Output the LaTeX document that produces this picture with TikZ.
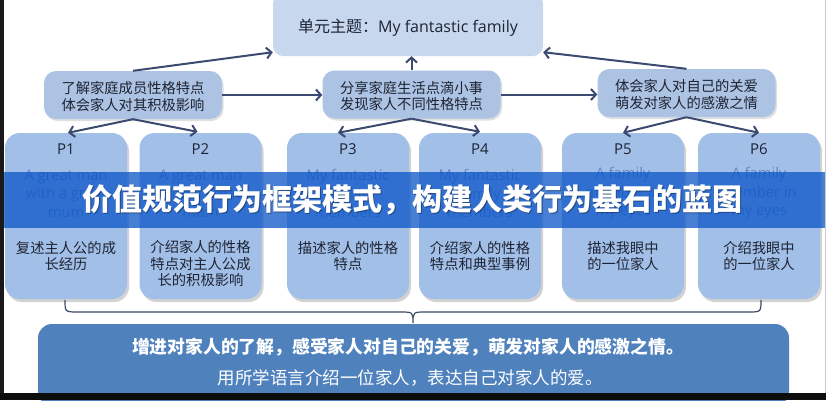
\documentclass[tikz,border=0pt]{standalone}
\usepackage{fontspec}
\setmainfont{Open Sans}
\newfontfamily\cjk{Noto Sans CJK SC}
\usetikzlibrary{arrows.meta,shadows,calc}
\definecolor{topc}{HTML}{C6D7EE}
\definecolor{midc}{HTML}{ADC3E3}
\definecolor{pc}{HTML}{A2BFE8}
\definecolor{arr}{HTML}{3B4A6E}
\definecolor{entext}{HTML}{5F88C6}
\definecolor{dark}{HTML}{1E2433}
\definecolor{bigc}{HTML}{4F81BD}
\definecolor{bann}{HTML}{0A55C8}
\definecolor{bracec}{HTML}{3A4866}
\tikzset{
  topbox/.style={fill=topc, rounded corners=10pt, minimum width=270pt, minimum height=62pt, inner sep=0pt},
  midbox/.style={fill=midc, rounded corners=12pt, minimum width=178pt, minimum height=48pt, inner sep=0pt,
    drop shadow={shadow xshift=1.5pt, shadow yshift=-2pt, opacity=0.25}},
  pbox/.style={fill=pc, rounded corners=15pt, minimum width=122pt, minimum height=166pt, inner sep=0pt,
    drop shadow={shadow xshift=2pt, shadow yshift=-3pt, opacity=0.35}},
  bigbox/.style={fill=bigc, rounded corners=14pt, minimum width=751pt, minimum height=82pt, inner sep=0pt},
  conn/.style={draw=arr, line width=2pt, -{Straight Barb[length=5pt,width=11pt]}},
  bracepath/.style={draw=bracec, line width=1.2pt},
  toptext/.style={font=\fontsize{16}{19}\selectfont, text=dark},
  midtext/.style={font=\cjk\fontsize{14.3}{16.5}\selectfont, text=dark, align=center},
  plabel/.style={font=\fontsize{15}{18}\selectfont, text=dark},
  entxt/.style={font=\fontsize{14.7}{18.5}\selectfont, text=entext, align=center},
  cntxt/.style={font=\cjk\fontsize{14.3}{16.5}\selectfont, text=dark, align=center},
  bigtextA/.style={font=\cjk\bfseries\fontsize{17.8}{20}\selectfont, text=white},
  bigtextB/.style={font=\cjk\fontsize{17.5}{20}\selectfont, text=white},
  banntext/.style={font=\cjk\bfseries\fontsize{30}{34}\selectfont, text=white},
}
\begin{document}
\begin{tikzpicture}[x=1pt,y=-1pt]
\useasboundingbox (0,0) rectangle (826,400);
\fill[white] (0,0) rectangle (826,400);

% top box
\node[topbox] (T) at (408,25) {};
\node[toptext] (Tt) at (408,28) {{\cjk 单元主题：}My fantastic family};

% middle boxes
\node[midbox] (M1) at (133,95) {};
\node[midbox] (M2) at (411.5,94.5) {};
\node[midbox] (M3) at (686.5,93) {};
\node[midtext] (M1t) at (133,96.5) {了解家庭成员性格特点\\体会家人对其积极影响};
\node[midtext] (M2t) at (411.5,96) {分享家庭生活点滴小事\\发现家人不同性格特点};
\node[midtext] (M3t) at (686.5,94.5) {体会家人对自己的关爱\\萌发对家人的感激之情};

% P boxes
\node[pbox] (P1) at (66,216) {};
\node[pbox] (P2) at (200.5,216) {};
\node[pbox] (P3) at (348,216) {};
\node[pbox] (P4) at (480,216) {};
\node[pbox] (P5) at (623,216) {};
\node[pbox] (P6) at (759,216) {};

\node[plabel] (P1l) at (66,149) {P1};
\node[plabel] (P2l) at (200.5,149) {P2};
\node[plabel] (P3l) at (348,149) {P3};
\node[plabel] (P4l) at (480,149) {P4};
\node[plabel] (P5l) at (623,149) {P5};
\node[plabel] (P6l) at (759,149) {P6};

\node[entxt] (P1e) at (66,193.5) {A great man\\with a great\\mum};
\node[entxt] (P2e) at (200.5,193.5) {A great man\\with a great\\mum};
\node[entxt] (P3e) at (348,193.5) {My fantastic\\family\\members};
\node[entxt] (P4e) at (480,193.5) {My fantastic\\family\\members};
\node[entxt] (P5e) at (623,193.5) {A family\\member in\\my eyes};
\node[entxt] (P6e) at (759,193.5) {A family\\member in\\my eyes};

\node[cntxt] (P1c) at (66,256) {复述主人公的成\\长经历};
\node[cntxt] (P2c) at (200.5,264) {介绍家人的性格\\特点对主人公成\\长的积极影响};
\node[cntxt] (P3c) at (348,256) {描述家人的性格\\特点};
\node[cntxt] (P4c) at (480,256) {介绍家人的性格\\特点和典型事例};
\node[cntxt] (P5c) at (623,256) {描述我眼中\\的一位家人};
\node[cntxt] (P6c) at (759,256) {介绍我眼中\\的一位家人};

% connectors
\draw[conn] (M1.north) -- ($(T.south west)+(0,-4)$);
\draw[conn] (M1.east) -- (M1.east -| M2.west);
\draw[conn] (M2.north) -- (M2.north |- T.south);
\draw[conn] (M2.east) -- (M2.east -| M3.west);
\draw[conn] (M3.north) -- ($(T.south east)+(0,-4)$);
\draw[conn] (M1.south) -- ($(P1.north)+(2,0)$);
\draw[conn] (M1.south) -- ($(P2.north)+(-3,-1)$);
\draw[conn] (M2.south) -- ($(P3.north)+(-10,0)$);
\draw[conn] (M2.south) -- ($(P4.north)+(0,-1)$);
\draw[conn] (M3.south) -- (P5.north);
\draw[conn] (M3.south) -- (P6.north);

% brace
\coordinate (bL) at (65,300);
\coordinate (bR) at (761,300);
\coordinate (bM) at (413,323);
\draw[bracepath] (bL) .. controls (65,312) .. (78,312) -- (400,312)
  .. controls (413,312) .. (bM) .. controls (413,312) .. (426,312)
  -- (748,312) .. controls (761,312) .. (bR);

% bottom box
\node[bigbox] (B) at (413.5,365) {};
\node[bigtextA] (Bt1) at (408,347) {增进对家人的了解，感受家人对自己的关爱，萌发对家人的感激之情。};
\node[bigtextB] (Bt2) at (410,378) {用所学语言介绍一位家人，表达自己对家人的爱。};

% banner overlay
\fill[bann, fill opacity=0.75] (0,172) rectangle (826,228);
\node[banntext, text=black, opacity=0.35] (Ws) at (413.2,201.2) {价值规范行为框架模式，构建人类行为基石的蓝图};
\node[banntext] (W) at (412,200) {价值规范行为框架模式，构建人类行为基石的蓝图};

% frame edges
\fill[black!90] (0,0) rectangle (4,400);
\fill[black!95] (0,393) rectangle (826,400);
\draw[black!20, line width=1pt] (825,0) -- (825,393);
\end{tikzpicture}
\end{document}
